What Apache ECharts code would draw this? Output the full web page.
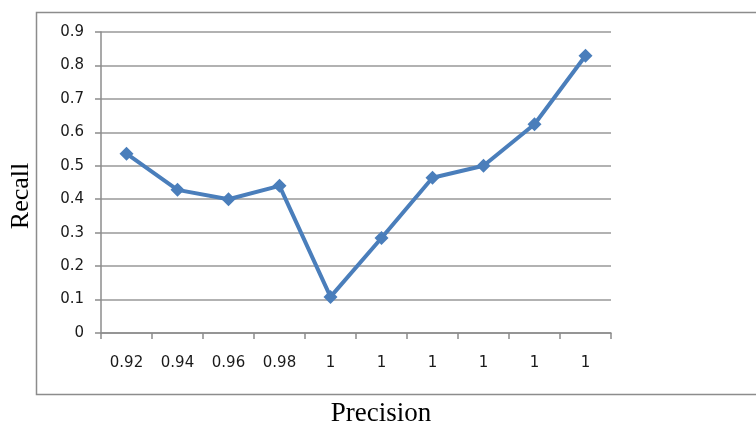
<!DOCTYPE html>
<html>
<head>
<meta charset="utf-8">
<script src="https://cdn.jsdelivr.net/npm/echarts@6/dist/echarts.min.js"></script>
<style>html,body{margin:0;padding:0;background:#fff}#c{width:756px;height:423px}</style>
</head>
<body>
<div id="c"></div>
<script>
var categories = ['0.92','0.94','0.96','0.98','1','1','1','1','1','1'];
var recall = [0.536, 0.428, 0.40, 0.44, 0.108, 0.284, 0.464, 0.50, 0.624, 0.829];
var xName = 'Precision';
var yName = 'Recall';

var chart = echarts.init(document.getElementById('c'));
chart.setOption({
  animation: false,
  backgroundColor: '#fff',
  graphic: [{
    type: 'rect', z: -1,
    shape: {x: 36.5, y: 12.5, width: 740, height: 382},
    style: {fill: 'none', stroke: '#8c8c8c', lineWidth: 1.5}
  }, {
    type: 'text', x: 381, y: 400,
    style: {text: xName, font: '27px "Liberation Serif"', fill: '#000', align: 'center', verticalAlign: 'top'}
  }, {
    type: 'text', x: 21, y: 196, rotation: Math.PI / 2,
    style: {text: yName, font: '26px "Liberation Serif"', fill: '#000', align: 'center', verticalAlign: 'middle'}
  }],
  grid: {left: 101, right: 145, top: 32, bottom: 90, containLabel: false, outerBoundsMode: 'none'},
  xAxis: {
    type: 'category', data: categories, boundaryGap: true,
    axisLine: {lineStyle: {color: '#8c8c8c', width: 1.5}},
    axisTick: {show: true, length: 6, inside: false, alignWithLabel: false, lineStyle: {color: '#8c8c8c', width: 1.5}},
    axisLabel: {margin: 23, fontFamily: 'DejaVu Sans', fontSize: 15, color: '#1a1a1a', interval: 0}
  },
  yAxis: {
    type: 'value', min: 0, max: 0.9, interval: 0.1,
    axisLine: {show: true, lineStyle: {color: '#8c8c8c', width: 1.5}},
    axisTick: {show: true, length: 6, lineStyle: {color: '#8c8c8c', width: 1.5}},
    splitLine: {lineStyle: {color: '#999', width: 1.5}},
    axisLabel: {margin: 17, fontFamily: 'DejaVu Sans', fontSize: 15, color: '#1a1a1a',
      formatter: function (v) { return v === 0 ? '0' : (Math.round(v * 10) / 10).toString(); }}
  },
  series: [{
    type: 'line', data: recall,
    symbol: 'diamond', symbolSize: 14,
    lineStyle: {color: '#4a7ebb', width: 4},
    itemStyle: {color: '#4a7ebb'}
  }]
});
</script>
</body>
</html>
